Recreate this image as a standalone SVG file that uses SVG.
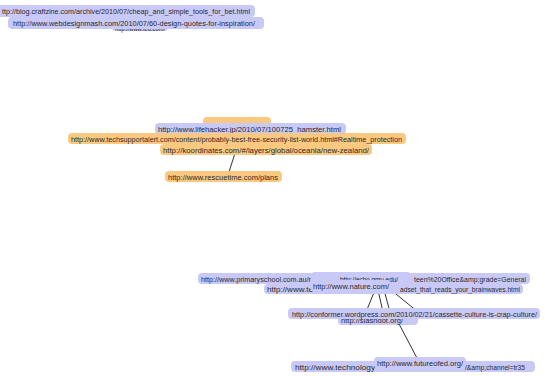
<svg xmlns="http://www.w3.org/2000/svg" width="545" height="376" viewBox="0 0 545 376">
<style>
.lav{fill:#c9c9f8}
.org{fill:#fac97f}
text{font-family:"Liberation Sans",Arial,sans-serif;font-size:8px;fill:#2a2a2a}
.edge{stroke:#333;stroke-width:1;fill:none}
</style>
<rect width="545" height="376" fill="#ffffff"/>
<g id="connectors">
<line class="edge" x1="236" y1="150" x2="229" y2="172"/>
<line class="edge" x1="375" y1="290" x2="366" y2="312"/>
<line class="edge" x1="378" y1="290" x2="383" y2="312"/>
<line class="edge" x1="384" y1="290" x2="390" y2="312"/>
<line class="edge" x1="391" y1="290" x2="418" y2="312"/>
<line class="edge" x1="398" y1="322" x2="418" y2="360"/>
</g>
<g id="n-hidden-top"><rect class="lav" x="112" y="22" width="56" height="9" rx="4"/><text x="115" y="31" textLength="50" lengthAdjust="spacingAndGlyphs">http://www.ted.com/</text></g>
<g id="n-craftzine"><rect class="lav" x="-4" y="5" width="259" height="12" rx="4"/><text x="2" y="14" textLength="248" lengthAdjust="spacingAndGlyphs">ttp://blog.craftzine.com/archive/2010/07/cheap_and_simple_tools_for_bet.html</text></g>
<g id="n-webdesignmash"><rect class="lav" x="8" y="17" width="256" height="12" rx="4"/><text x="13" y="26" textLength="242" lengthAdjust="spacingAndGlyphs">http://www.webdesignmash.com/2010/07/60-design-quotes-for-inspiration/</text></g>

<g id="n-hidden-mid"><rect class="org" x="203" y="117" width="68" height="10" rx="4"/><text x="206" y="129" textLength="60" lengthAdjust="spacingAndGlyphs">http://www.mint.com/</text></g>
<g id="n-lifehacker"><rect class="lav" x="155" y="123" width="191" height="11" rx="4"/><text x="158" y="131.5" textLength="183" lengthAdjust="spacingAndGlyphs">http://www.lifehacker.jp/2010/07/100725_hamster.html</text></g>
<g id="n-techsupport"><rect class="org" x="68" y="133" width="338" height="11" rx="4"/><text x="71" y="141.5" textLength="331" lengthAdjust="spacingAndGlyphs">http://www.techsupportalert.com/content/probably-best-free-security-list-world.html#Realtime_protection</text></g>
<g id="n-koordinates"><rect class="org" x="160" y="144" width="212" height="11" rx="4"/><text x="163" y="152.5" textLength="206" lengthAdjust="spacingAndGlyphs">http://koordinates.com/#/layers/global/oceania/new-zealand/</text></g>
<g id="n-rescuetime"><rect class="org" x="165" y="171" width="117" height="11" rx="4"/><text x="168" y="179.5" textLength="110" lengthAdjust="spacingAndGlyphs">http://www.rescuetime.com/plans</text></g>

<g id="n-primaryschool"><rect class="lav" x="198" y="273" width="332" height="11" rx="4"/><text y="281.5"><tspan x="201" textLength="110" lengthAdjust="spacingAndGlyphs">http://www.primaryschool.com.au/r</tspan><tspan x="414" textLength="112" lengthAdjust="spacingAndGlyphs">teen%20Office&amp;amp;grade=General</tspan></text></g>
<g id="n-echo"><rect class="lav" x="311" y="272" width="100" height="11" rx="4"/><text x="340" y="281.5" textLength="58" lengthAdjust="spacingAndGlyphs">http://echo.gmu.edu/</text></g>
<g id="n-brainwaves"><rect class="lav" x="264" y="284" width="259" height="10" rx="4"/><text y="291.5"><tspan x="267" textLength="46" lengthAdjust="spacingAndGlyphs">http://www.te</tspan><tspan x="400" textLength="120" lengthAdjust="spacingAndGlyphs">adset_that_reads_your_brainwaves.html</tspan></text></g>
<g id="n-nature"><rect class="lav" x="310" y="280" width="81" height="11" rx="4"/><text x="313" y="288.5" textLength="76" lengthAdjust="spacingAndGlyphs">http://www.nature.com/</text></g>

<g id="n-slashdot"><rect class="lav" x="338" y="315" width="80" height="10" rx="4"/><text x="341" y="323" textLength="62" lengthAdjust="spacingAndGlyphs">http://slashdot.org/</text></g>
<g id="n-conformer"><rect class="lav" x="288" y="308" width="252" height="11" rx="4"/><text x="292" y="316.5" textLength="245" lengthAdjust="spacingAndGlyphs">http://conformer.wordpress.com/2010/02/21/cassette-culture-is-crap-culture/</text></g>

<g id="n-technology"><rect class="lav" x="291" y="361" width="244" height="11" rx="4"/><text y="369.5"><tspan x="295" textLength="80" lengthAdjust="spacingAndGlyphs">http://www.technology</tspan><tspan x="465" textLength="60" lengthAdjust="spacingAndGlyphs">/&amp;amp;channel=tr35</tspan></text></g>
<g id="n-futureofed"><rect class="lav" x="374" y="357" width="92" height="11" rx="4"/><text x="377" y="365.5" textLength="86" lengthAdjust="spacingAndGlyphs">http://www.futureofed.org/</text></g>
</svg>
